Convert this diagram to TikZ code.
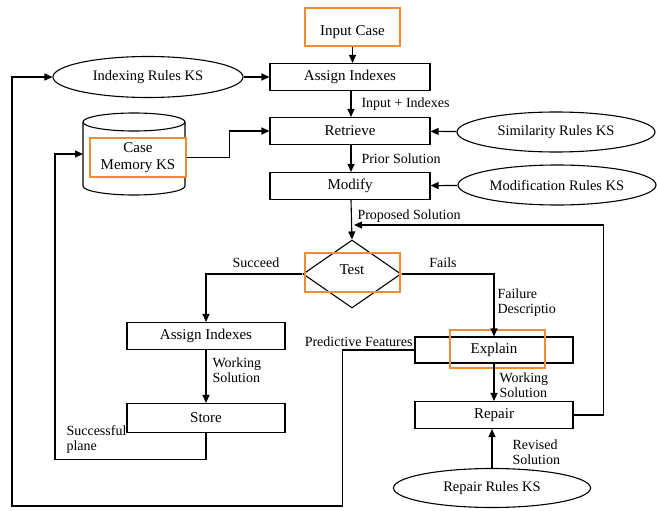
\documentclass[tikz,border=0pt]{standalone}
\usepackage{fontspec}
\setmainfont{Liberation Serif}
\usepackage{xcolor}
\usetikzlibrary{arrows.meta,positioning,shapes.geometric,calc}
\definecolor{hlorange}{RGB}{240,140,50}

\begin{document}
\begin{tikzpicture}[x=1pt,y=-1pt, line width=1.1pt, every node/.style={font=\rmfamily\fontsize{15}{17}\selectfont}, box/.style={draw,minimum width=160pt,minimum height=27pt,inner sep=0pt,align=center}, kse/.style={draw,ellipse,minimum width=195pt,minimum height=40pt,inner sep=0pt,font=\rmfamily\fontsize{14.5}{16}\selectfont}, hl/.style={draw=hlorange,line width=2.6pt,minimum width=95pt,minimum height=38pt,inner sep=0pt,align=center}, lbl/.style={font=\rmfamily\fontsize{14}{15}\selectfont,align=left,inner sep=1pt}, arr/.style={-{Triangle[length=8pt,width=7pt]}}]
\useasboundingbox (0,0) rectangle (657,511);
% main column
\node[hl] (input) at (352.5,27) {};
\node at (352.5,32) {Input Case};
\node[box] (idx) at (350,77) {Assign Indexes};
\node[box] (ret) at (350,131) {Retrieve};
\node[box] (mod) at (350,186) {Modify};
\node[draw,diamond,minimum width=98pt,minimum height=68pt,inner sep=0pt] (test) at (352,274) {};
\node at (352,270) {Test};
\node[box,minimum width=158pt] (idx2) at (206,336) {Assign Indexes};
\node[box,minimum width=158pt,minimum height=29pt] (store) at (206,418) {Store};
\node[box,minimum width=158pt,minimum height=26pt] (expl) at (494,350) {Explain};
\node[box,minimum width=158pt] (rep) at (494,415) {Repair};
% knowledge sources
\node[kse,minimum width=190pt,minimum height=41pt] (idxks) at (148,77) {Indexing Rules KS};
\node[kse,minimum width=198pt] (simks) at (556,132) {Similarity Rules KS};
\node[kse,minimum width=198pt] (modks) at (557,185) {Modification Rules KS};
\node[kse,minimum width=197pt,minimum height=39pt] (repks) at (492,488) {Repair Rules KS};
% case memory drum
\draw (83,122) -- (83,186) arc[start angle=180,end angle=0,x radius=51,y radius=9] -- (185,122);
\draw (134,122) ellipse [x radius=51,y radius=9];
\coordinate (mem) at (83,154);
% highlights
\node[hl,minimum width=96pt,minimum height=39pt,fill=white] (memlbl) at (138,157.5) {Case\\Memory KS};
\node[hl,minimum height=39pt] (testhl) at (352.5,272.5) {};
\node[hl] (explhl) at (497.5,349) {};
\coordinate (pin) at (354,225);
% connectors
\draw[arr] (input) -- (input|-idx.north);
\draw[arr] (idxks) -- (idx);
\draw[arr] (idx.south-|351,0) -- (ret.north-|351,0);
\draw[arr] (ret.south-|351,0) -- (mod.north-|351,0);
\draw[arr] (mod.south-|351,0) -- (test.north);
\draw[arr] (simks) -- (ret);
\draw[arr] (modks) -- (mod);
\draw[arr] (memlbl.east) -- ++(42,0) |- (ret.west);
\draw[arr] (test.west) -| (idx2.north);
\draw[arr] (test.east) -| (expl.north);
\draw[arr] (idx2) -- (store);
\draw[arr] (expl) -- (rep);
\draw[arr] (repks) -- (repks|-rep.south);
\draw[arr] (rep.east) -- ++(30,0) |- (pin);
\draw[arr] (store.south) -- ++(0,26) -| (55,154) -- (mem);
\draw[arr] (expl.west) -- ++(-72,0) |- (12,506) |- (idxks.west);
% labels
\node[lbl,anchor=west] at (360,104) {Input + Indexes};
\node[lbl,anchor=west] at (360,159) {Prior Solution};
\node[lbl,anchor=west] at (356,216) {Proposed Solution};
\node[lbl] at (256,263) {Succeed};
\node[lbl] at (443,263) {Fails};
\node[lbl,anchor=west] at (496,303) {Failure\\Descriptio};
\node[lbl,anchor=east] at (414,342) {Predictive Features};
\node[lbl,anchor=west] at (211,370) {Working\\Solution};
\node[lbl,anchor=west] at (65,440) {Successful\\plane};
\node[lbl,anchor=west] at (498,385) {Working\\Solution};
\node[lbl,anchor=west] at (511,452) {Revised\\Solution};
\end{tikzpicture}
\end{document}
